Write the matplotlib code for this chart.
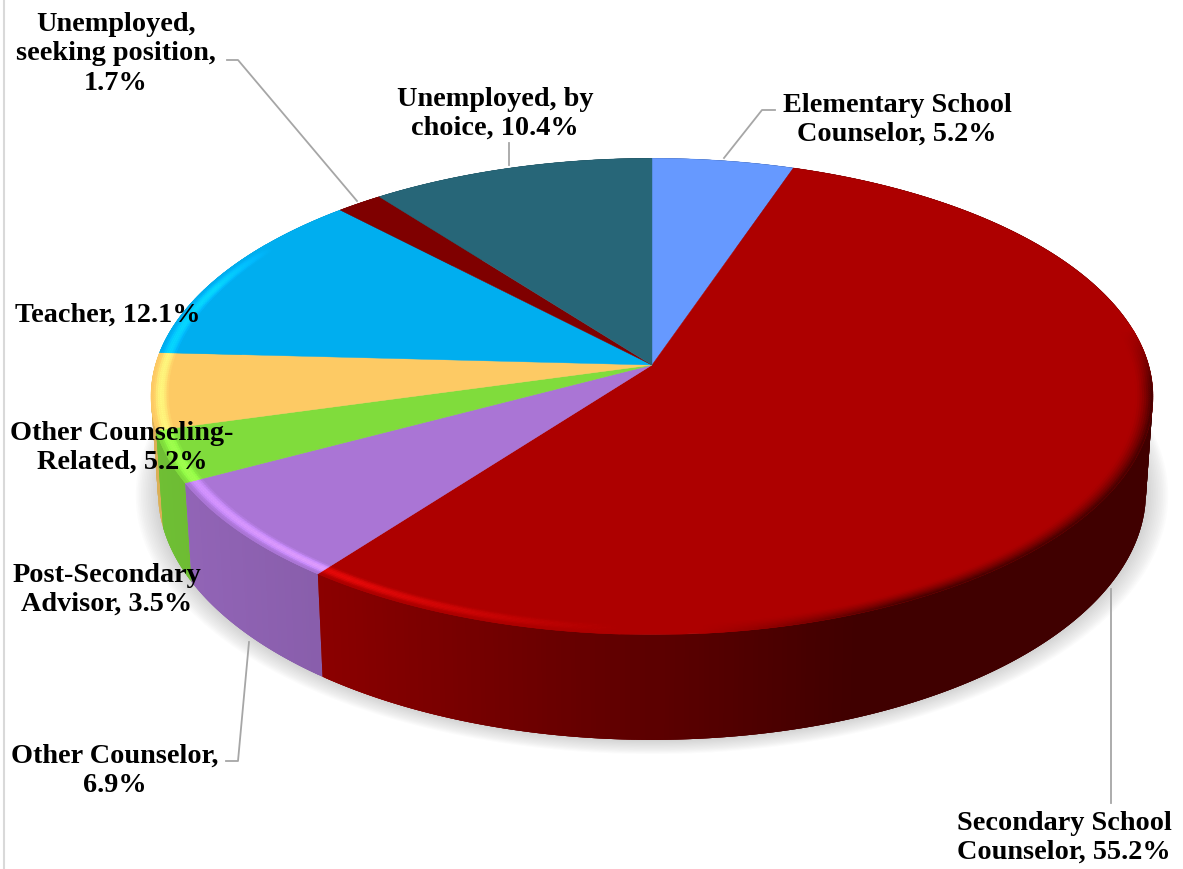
import numpy as np
import matplotlib
matplotlib.use('Agg')
import matplotlib.pyplot as plt
from matplotlib.collections import PolyCollection
from matplotlib.colors import to_rgb

# values in clockwise order from 12 o'clock
names = ['Elementary School', 'Secondary School', 'Other Counselor', 'Post-Secondary',
         'Other Counseling', 'Teacher', 'Unemployed seeking', 'Unemployed by choice']
values = [5.2, 55.2, 6.9, 3.5, 5.2, 12.1, 1.7, 10.4]
colors = ['#6699ff', '#ad0000', '#aa75d5', '#80dc3c', '#fdca64', '#00aeef', '#7f0000', '#276678']

label_texts = ['Unemployed,\nseeking position,\n1.7%', 'Unemployed, by\nchoice, 10.4%',
               'Elementary School\nCounselor, 5.2%', 'Teacher, 12.1%',
               'Other Counseling-\nRelated, 5.2%', 'Post-Secondary\nAdvisor, 3.5%',
               'Other Counselor,\n6.9%', 'Secondary School\nCounselor, 55.2%']
label_x = [116, 495, 897, 108, 122, 107, 115, 1064]
label_y = [54, 114, 120, 315, 448, 590, 771, 838]

leaders = [([227, 238, 357], [60, 60, 201]),
           ([509, 509], [143, 165]),
           ([775, 762, 724], [110, 110, 158]),
           ([226, 238, 249], [761, 761, 642]),
           ([1111, 1111], [589, 803])]

# projection of the tilted disc into pixels
cx, cy = 652, 365
persp = 0.132
bx, by = 496.6, 234
wall_y, wall_sx, wall_sy = 94.5, 0.986, 1.04


def top_xy(t, r=1.0):
    u, v = r * np.sin(t), r * np.cos(t)
    w = 1 + persp * v
    return bx * u / w, by * v / w


def surface(t, r=1.0):
    x, y = top_xy(t, r)
    return cx + x, cy - y


def base(t):
    x, y = top_xy(t)
    return cx + wall_sx * x, cy + wall_y - wall_sy * y


def wall_shade(x):
    return np.interp(x, [150, 330, 850, 1160], [0.87, 0.8, 0.37, 0.37])


frac = np.array(values) / sum(values)
edges = np.concatenate([[0], np.cumsum(frac)]) * 2 * np.pi
step = np.radians(0.5)

fig = plt.figure(figsize=(11.83, 8.69), dpi=100)
ax = fig.add_axes([0, 0, 1, 1])
ax.set_xlim(0, 1183)
ax.set_ylim(869, 0)
ax.axis('off')

# chart border, only the left side shows
ax.plot([4, 4], [0, 869], color='#d9d9d9', lw=1.5, zorder=1)

# soft shadow below the pie
tt = np.linspace(0, 2 * np.pi, 400)
bxs, bys = base(tt)
for grow in np.linspace(1.045, 1.0, 14):
    sx = cx + (bxs - cx) * grow
    sy = cy + 60 + (bys - cy - 60) * grow
    ax.fill(sx, sy, color='#707070', alpha=0.022, lw=0, zorder=2)

# side wall, overlapping strips from back to front so no seams show
strips = []
for i in range(len(values)):
    ts = np.append(np.arange(edges[i], edges[i + 1], step), edges[i + 1])
    col = np.array(to_rgb(colors[i]))
    for a, b in zip(ts[:-1], ts[1:]):
        a2 = max(a - step, edges[i])
        b2 = min(b + step, edges[i + 1])
        x0, y0 = surface(a2)
        x1, y1 = surface(b2)
        x2, y2 = base(b2)
        x3, y3 = base(a2)
        m = (a + b) / 2
        strips.append((np.cos(m), [(x0, y0), (x1, y1), (x2, y2), (x3, y3)], col * wall_shade(surface(m)[0])))
strips.sort(key=lambda s: -s[0])
ax.add_collection(PolyCollection([s[1] for s in strips], facecolors=[s[2] for s in strips],
                                 edgecolors='none', linewidths=0, zorder=3))

# top surface
for i in range(len(values)):
    ts = np.linspace(edges[i], edges[i + 1], 200)
    xs, ys = surface(ts)
    ax.fill(np.r_[cx, xs], np.r_[cy, ys], color=colors[i], lw=0.3, zorder=4)

# bevel along the front rim
rims = np.linspace(0.966, 1.0, 9)
polys, fcs = [], []
for i in range(len(values)):
    ts = np.append(np.arange(edges[i], edges[i + 1], step), edges[i + 1])
    col = np.array(to_rgb(colors[i]))
    for a, b in zip(ts[:-1], ts[1:]):
        m = (a + b) / 2
        xm, _ = surface(m)
        vm = np.cos(m)
        front = np.clip((0.55 - vm) / 0.2, 0, 1)
        light = np.interp(xm, [150, 340, 620], [0.24, 0.36, 0]) * front
        dark = np.interp(xm, [700, 900, 1160], [0, 1, 1]) * np.clip((0.15 - vm) / 0.25, 0, 1)
        if light == 0 and dark == 0:
            continue
        for k, (r0, r1) in enumerate(zip(rims[:-1], rims[1:])):
            p = (k + 0.5) / (len(rims) - 1)
            glow = light * np.sin(np.pi * min(p * 1.15, 1))
            c = col * (1 + 0.8 * glow) + 0.1 * glow
            c = c * (1 - dark * p ** 1.5 * (1 - wall_shade(xm)))
            polys.append([surface(a, r0), surface(b, r0), surface(b, r1), surface(a, r1)])
            fcs.append(np.clip(c, 0, 1))
ax.add_collection(PolyCollection(polys, facecolors=fcs, edgecolors=fcs, linewidths=0.3, zorder=5))

# leader lines
for lx, ly in leaders:
    ax.plot(lx, ly, color='#a6a6a6', lw=1.3, zorder=6, solid_joinstyle='round')

# labels
for s, x, y in zip(label_texts, label_x, label_y):
    ax.text(x, y, s, ha='center', va='center', family=['Liberation Serif', 'DejaVu Serif'],
            fontweight='bold', fontsize=20.3, color='black', linespacing=1.22, zorder=7)

fig.savefig('out.png', dpi=100)
